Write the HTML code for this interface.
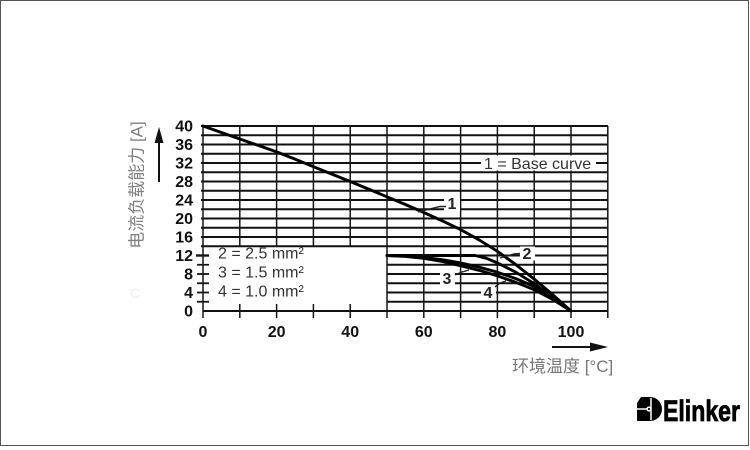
<!DOCTYPE html>
<html><head><meta charset="utf-8"><style>
html,body{margin:0;padding:0;background:#fff;}
svg{display:block;}
</style></head><body>
<svg width="750" height="450" viewBox="0 0 750 450" xmlns="http://www.w3.org/2000/svg">
<rect x="0" y="0" width="750" height="450" fill="#fff"/>
<rect x="0.5" y="0.5" width="748" height="445" fill="none" stroke="#555" stroke-width="1"/>

<!-- horizontal grid: upper full-width (v=14..40) -->
<g stroke="#111" stroke-width="2">
<line x1="201" y1="126" x2="608" y2="126"/>
<line x1="201" y1="135.25" x2="608" y2="135.25"/>
<line x1="201" y1="144.5" x2="608" y2="144.5"/>
<line x1="201" y1="153.75" x2="608" y2="153.75"/>
<line x1="201" y1="163" x2="608" y2="163"/>
<line x1="201" y1="172.25" x2="608" y2="172.25"/>
<line x1="201" y1="181.5" x2="608" y2="181.5"/>
<line x1="201" y1="190.75" x2="608" y2="190.75"/>
<line x1="201" y1="200" x2="608" y2="200"/>
<line x1="201" y1="209.25" x2="608" y2="209.25"/>
<line x1="201" y1="218.5" x2="608" y2="218.5"/>
<line x1="201" y1="227.75" x2="608" y2="227.75"/>
<line x1="201" y1="237" x2="608" y2="237"/>
<line x1="201" y1="246.25" x2="608" y2="246.25"/>
<!-- lower right region v=2..12 -->
<line x1="387" y1="255.5" x2="608" y2="255.5"/>
<line x1="387" y1="264.75" x2="608" y2="264.75"/>
<line x1="387" y1="274" x2="608" y2="274"/>
<line x1="387" y1="283.25" x2="608" y2="283.25"/>
<line x1="387" y1="292.5" x2="608" y2="292.5"/>
<line x1="387" y1="301.75" x2="608" y2="301.75"/>
<!-- x axis -->
<line x1="203" y1="311" x2="608" y2="311"/>
</g>

<!-- vertical grid -->
<g stroke="#151515" stroke-width="1.5">
<line x1="203" y1="126" x2="203" y2="318"/>
<line x1="239.8" y1="126" x2="239.8" y2="246.25"/>
<line x1="276.6" y1="126" x2="276.6" y2="246.25"/>
<line x1="313.4" y1="126" x2="313.4" y2="246.25"/>
<line x1="350.2" y1="126" x2="350.2" y2="246.25"/>
<line x1="387" y1="126" x2="387" y2="318"/>
<line x1="423.8" y1="126" x2="423.8" y2="318"/>
<line x1="460.6" y1="126" x2="460.6" y2="318"/>
<line x1="497.4" y1="126" x2="497.4" y2="318"/>
<line x1="534.2" y1="126" x2="534.2" y2="318"/>
<line x1="571" y1="126" x2="571" y2="318"/>
<line x1="607.8" y1="126" x2="607.8" y2="318"/>
<!-- bottom ticks in left region -->
<line x1="239.8" y1="304" x2="239.8" y2="318"/>
<line x1="276.6" y1="304" x2="276.6" y2="318"/>
<line x1="313.4" y1="304" x2="313.4" y2="318"/>
<line x1="350.2" y1="304" x2="350.2" y2="318"/>
</g>
<!-- y ticks lower-left -->
<g stroke="#151515" stroke-width="1.8">
<line x1="196" y1="255.5" x2="209" y2="255.5" stroke-width="2.4"/>
<line x1="197" y1="264.75" x2="209" y2="264.75"/>
<line x1="197" y1="274" x2="209" y2="274"/>
<line x1="197" y1="283.25" x2="209" y2="283.25"/>
<line x1="197" y1="292.5" x2="209" y2="292.5"/>
<line x1="197" y1="301.75" x2="209" y2="301.75"/>
</g>

<!-- white boxes for labels -->
<g fill="#fff">
<rect x="481" y="155.5" width="115" height="15"/>
<rect x="444" y="197" width="16" height="14"/>
<rect x="520" y="246.5" width="15" height="14"/>
<rect x="440" y="271" width="15" height="14"/>
<rect x="481" y="285" width="15" height="14"/>
</g>

<!-- curves -->
<g fill="none" stroke="#000" stroke-width="2.9" stroke-linejoin="round" stroke-linecap="round">
<polyline points="203,126 221.4,132.5 239.8,139 258.2,145.4 276.6,151.9 295,159.1 313.4,166.7 331.8,174.1 350.2,181.5 368.6,189.1 387,196.8 405.4,204.5 423.8,212.5 442.2,220.8 460.6,229.6 479,239.8 497.4,251.3 515.8,264.6 534.2,279.1 552.6,294.6 571,311"/>
<polyline points="387,255.5 475.3,255.5 486.4,258.3 497.4,262.9 515.8,272.2 534.2,283.7 552.6,297.1 571,311"/>
<polyline points="387,255.5 405.4,256 423.8,257.4 442.2,259.7 460.6,262.9 479,267.1 497.4,272.2 515.8,278.6 534.2,286.5 552.6,297.6 571,311"/>
<polyline points="387,255.5 405.4,256.4 423.8,258.3 442.2,261.5 460.6,265.7 479,270.3 497.4,275.9 515.8,282.3 534.2,289.7 552.6,299.4 571,311"/>
</g>

<!-- leaders -->
<g fill="none" stroke="#222" stroke-width="1.4">
<polyline points="418,212 440,206.5 446,206.5"/>
<polyline points="500,258 514,254 520,253.5"/>
<polyline points="455,275 462,272 469,270"/>
<polyline points="495,287 500,283 506,281"/>
</g>

<!-- curve labels -->
<g font-family="Liberation Sans, Arial, sans-serif" font-size="16" font-weight="bold" fill="#222" text-anchor="middle">
<text x="452" y="209">1</text>
<text x="527" y="259">2</text>
<text x="447" y="284">3</text>
<text x="488" y="298">4</text>
</g>
<text x="484" y="169" font-family="Liberation Sans, Arial, sans-serif" font-size="16" fill="#333">1 = Base curve</text>

<!-- legend -->
<g font-family="Liberation Sans, Arial, sans-serif" font-size="16" fill="#333">
<text x="218" y="258.5">2 = 2.5 mm²</text>
<text x="218" y="277.5">3 = 1.5 mm²</text>
<text x="218" y="296.5">4 = 1.0 mm²</text>
</g>

<!-- y tick labels -->
<g font-family="Liberation Sans, Arial, sans-serif" font-size="16" font-weight="bold" fill="#111" text-anchor="end">
<text x="193" y="131.5">40</text>
<text x="193" y="150">36</text>
<text x="193" y="168.5">32</text>
<text x="193" y="187">28</text>
<text x="193" y="205.5">24</text>
<text x="193" y="224">20</text>
<text x="193" y="242.5">16</text>
<text x="193" y="261">12</text>
<text x="193" y="279.5">8</text>
<text x="193" y="298">4</text>
<text x="193" y="316.5">0</text>
</g>
<!-- x tick labels -->
<g font-family="Liberation Sans, Arial, sans-serif" font-size="16" font-weight="bold" fill="#111" text-anchor="middle">
<text x="203" y="337">0</text>
<text x="276.6" y="337">20</text>
<text x="350.2" y="337">40</text>
<text x="423.8" y="337">60</text>
<text x="497.4" y="337">80</text>
<text x="571" y="337">100</text>
</g>

<!-- axis arrows -->
<line x1="159" y1="140" x2="159" y2="182" stroke="#111" stroke-width="2"/>
<polygon points="159,127 154.5,143 163.5,143" fill="#111"/>
<line x1="552" y1="347" x2="594" y2="347" stroke="#111" stroke-width="2"/>
<polygon points="608,347 590,342.5 590,351.5" fill="#111"/>

<!-- axis titles -->
<text x="137" y="185" transform="rotate(-90 137 185)" text-anchor="middle" dominant-baseline="central" font-family="Liberation Sans, Noto Sans CJK SC, sans-serif" font-size="17" fill="#808080">电流负载能力 [A]</text>
<text x="512" y="372" font-family="Liberation Sans, Noto Sans CJK SC, sans-serif" font-size="17" fill="#777">环境温度 [°C]</text>
<text x="130" y="298" font-family="Liberation Sans, sans-serif" font-size="14" fill="#efefef">C</text>

<!-- logo -->
<g>
<path d="M641,397 H650 A12,12 0 0 1 650,421 H637 V403 Z" fill="#000"/>
<line x1="651" y1="398" x2="651" y2="420" stroke="#fff" stroke-width="1.5"/>
<line x1="637" y1="409" x2="651" y2="409" stroke="#fff" stroke-width="1.5"/>
<circle cx="649" cy="409" r="2.6" fill="#fff"/>
<circle cx="649" cy="409" r="1.1" fill="#000"/>
<text x="663" y="421" font-family="Liberation Sans, Arial, sans-serif" font-size="30" font-weight="bold" fill="#000" stroke="#000" stroke-width="0.8" textLength="77" lengthAdjust="spacingAndGlyphs">Elinker</text>
</g>
</svg>
</body></html>
